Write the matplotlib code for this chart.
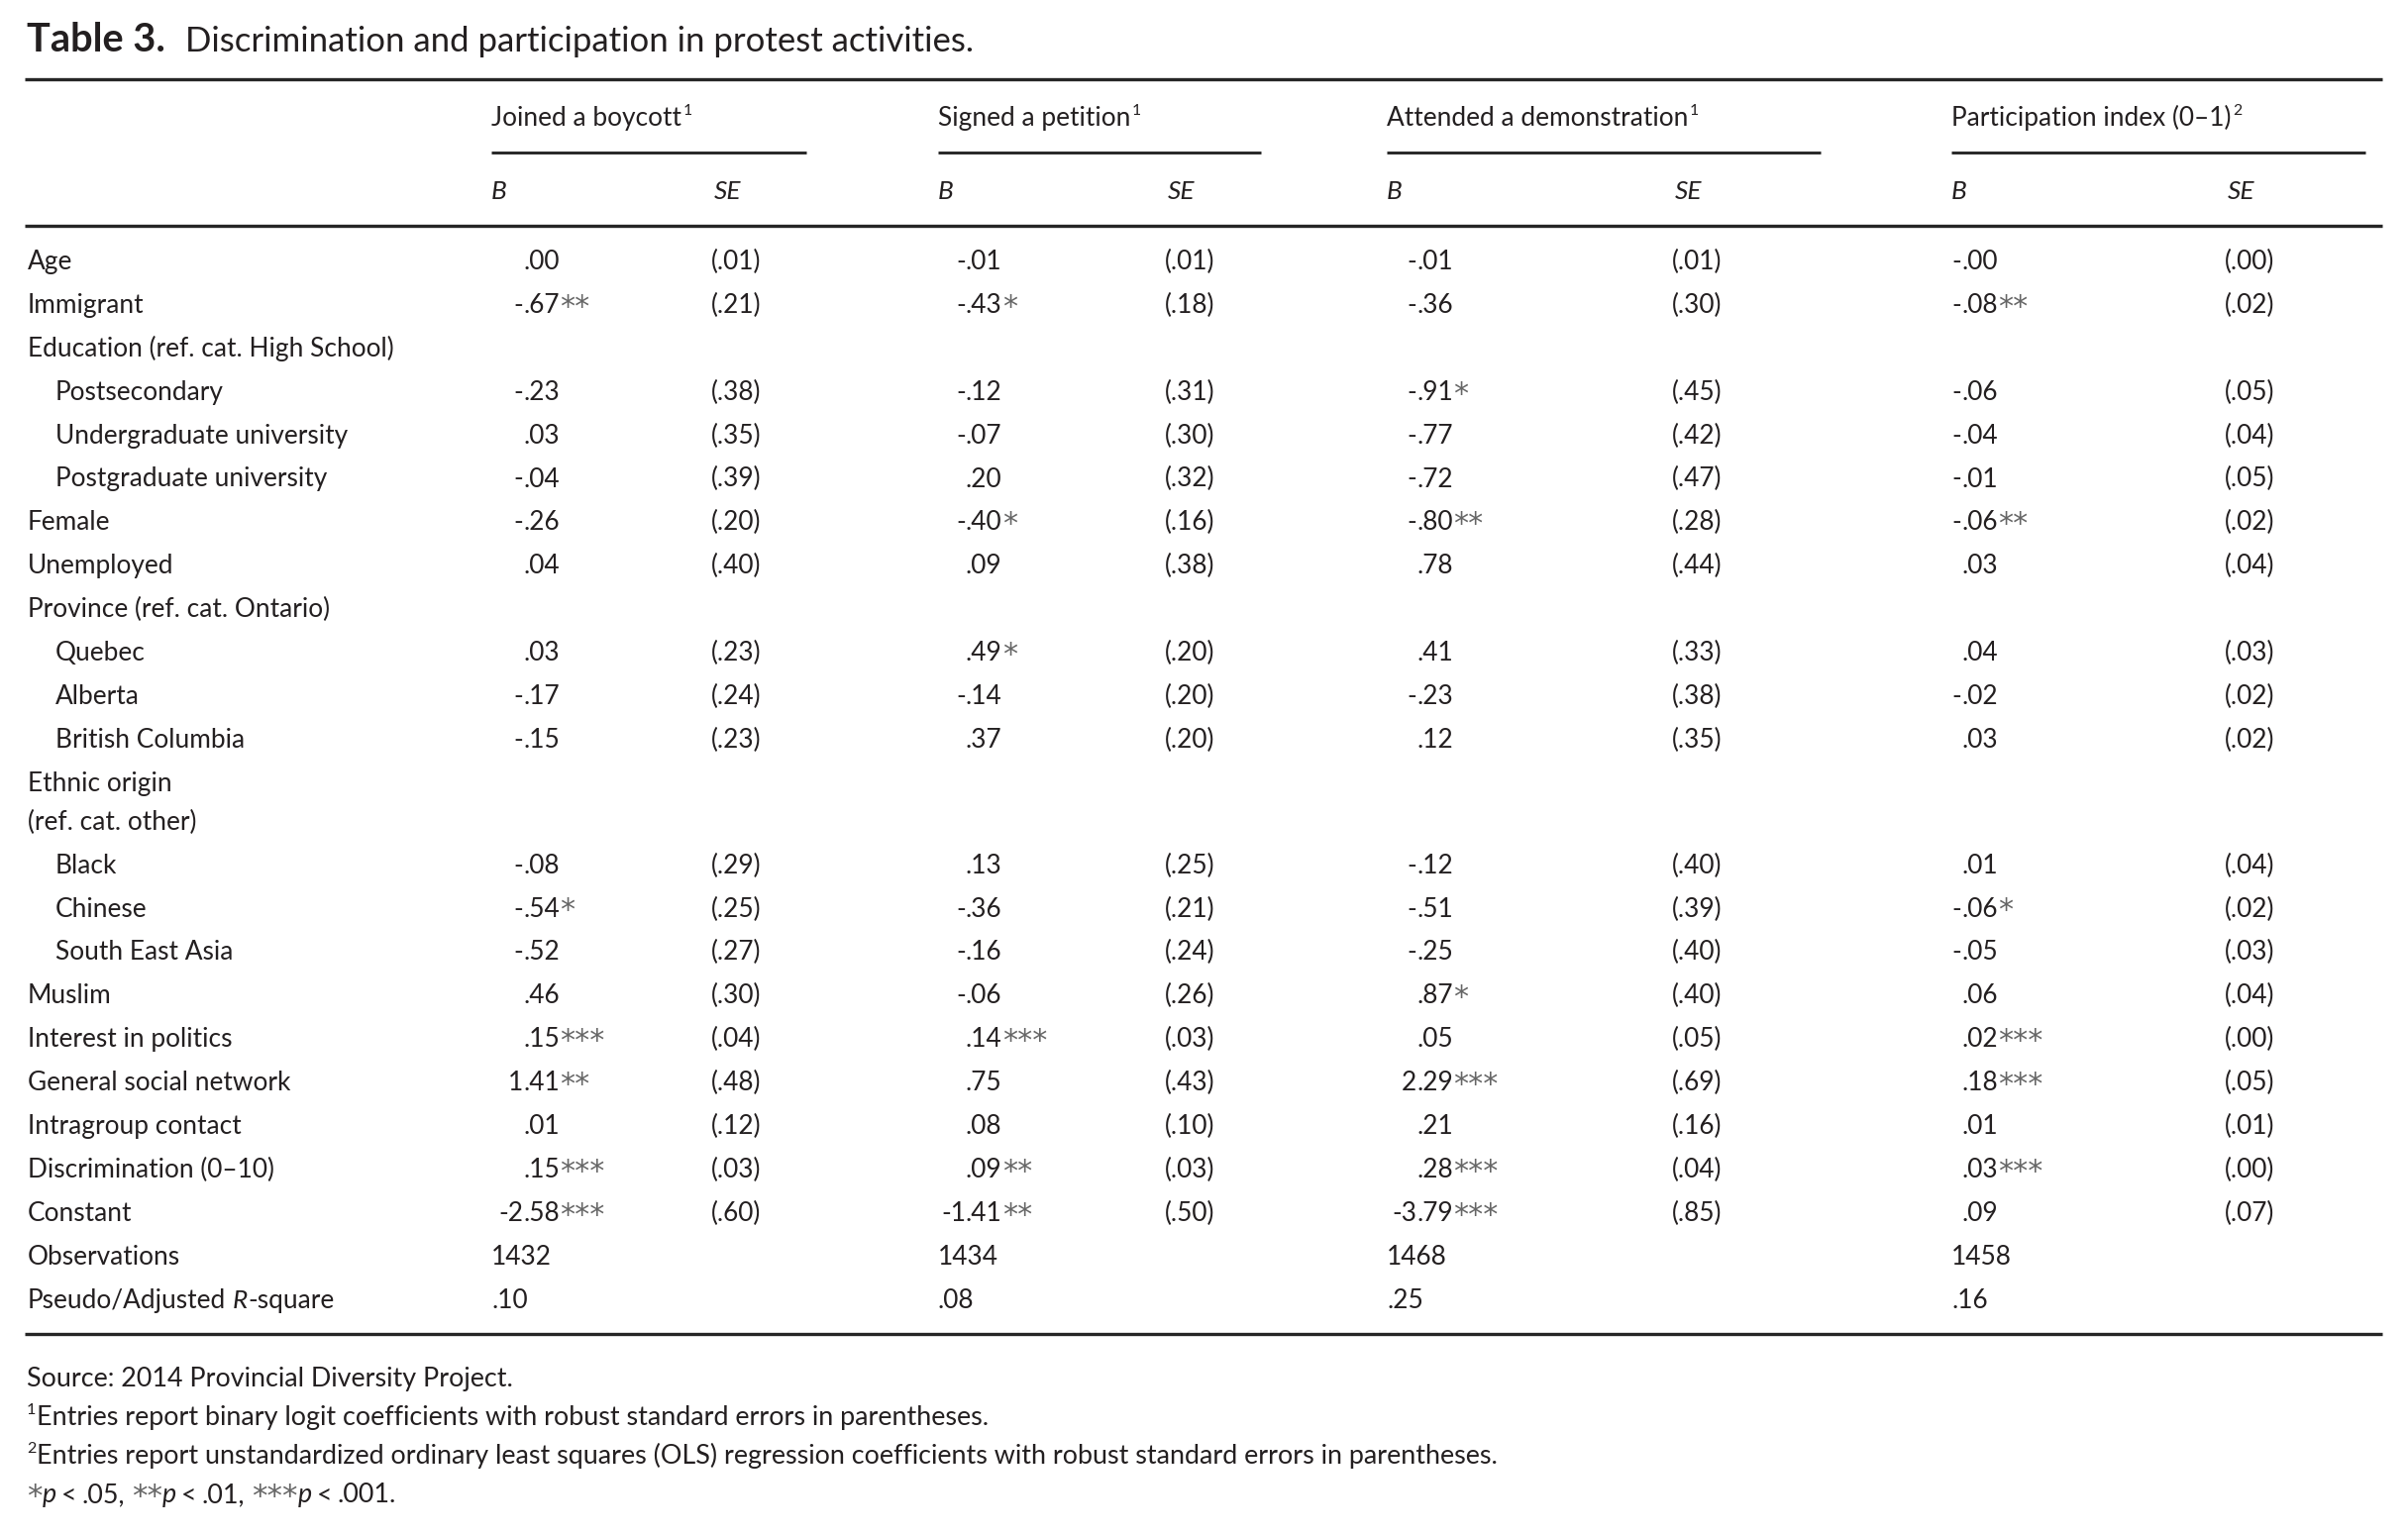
import matplotlib
matplotlib.use('Agg')
import matplotlib.pyplot as plt

W, H = 2431, 1550
FONT = ['Lato', 'DejaVu Sans']
STAR_FONT = ['DejaVu Sans']
INK = '#231f20'
STAR = '#666666'
RULE = '#262626'

# ---------------- data ----------------
title_bold = "Table 3."
title_text = "Discrimination and participation in protest activities."
group_titles = ["Joined a boycott", "Signed a petition",
                "Attended a demonstration", "Participation index (0–1)"]
group_marks = ["1", "1", "1", "2"]
sub_headers = ["B", "SE"]

row_labels = ["Age", "Immigrant", "Education (ref. cat. High School)",
              "Postsecondary", "Undergraduate university", "Postgraduate university",
              "Female", "Unemployed", "Province (ref. cat. Ontario)",
              "Quebec", "Alberta", "British Columbia",
              "Ethnic origin\n(ref. cat. other)",
              "Black", "Chinese", "South East Asia", "Muslim",
              "Interest in politics", "General social network",
              "Intragroup contact", "Discrimination (0–10)", "Constant"]
row_indent = [0, 0, 0, 1, 1, 1, 0, 0, 0, 1, 1, 1, 0, 1, 1, 1, 0, 0, 0, 0, 0, 0]

boycott_b = [".00", "-.67**", "", "-.23", ".03", "-.04", "-.26", ".04", "",
             ".03", "-.17", "-.15", "", "-.08", "-.54*", "-.52", ".46",
             ".15***", "1.41**", ".01", ".15***", "-2.58***"]
boycott_se = ["(.01)", "(.21)", "", "(.38)", "(.35)", "(.39)", "(.20)", "(.40)", "",
              "(.23)", "(.24)", "(.23)", "", "(.29)", "(.25)", "(.27)", "(.30)",
              "(.04)", "(.48)", "(.12)", "(.03)", "(.60)"]
petition_b = ["-.01", "-.43*", "", "-.12", "-.07", ".20", "-.40*", ".09", "",
              ".49*", "-.14", ".37", "", ".13", "-.36", "-.16", "-.06",
              ".14***", ".75", ".08", ".09**", "-1.41**"]
petition_se = ["(.01)", "(.18)", "", "(.31)", "(.30)", "(.32)", "(.16)", "(.38)", "",
               "(.20)", "(.20)", "(.20)", "", "(.25)", "(.21)", "(.24)", "(.26)",
               "(.03)", "(.43)", "(.10)", "(.03)", "(.50)"]
demo_b = ["-.01", "-.36", "", "-.91*", "-.77", "-.72", "-.80**", ".78", "",
          ".41", "-.23", ".12", "", "-.12", "-.51", "-.25", ".87*",
          ".05", "2.29***", ".21", ".28***", "-3.79***"]
demo_se = ["(.01)", "(.30)", "", "(.45)", "(.42)", "(.47)", "(.28)", "(.44)", "",
           "(.33)", "(.38)", "(.35)", "", "(.40)", "(.39)", "(.40)", "(.40)",
           "(.05)", "(.69)", "(.16)", "(.04)", "(.85)"]
index_b = ["-.00", "-.08**", "", "-.06", "-.04", "-.01", "-.06**", ".03", "",
           ".04", "-.02", ".03", "", ".01", "-.06*", "-.05", ".06",
           ".02***", ".18***", ".01", ".03***", ".09"]
index_se = ["(.00)", "(.02)", "", "(.05)", "(.04)", "(.05)", "(.02)", "(.04)", "",
            "(.03)", "(.02)", "(.02)", "", "(.04)", "(.02)", "(.03)", "(.04)",
            "(.00)", "(.05)", "(.01)", "(.00)", "(.07)"]

observations = ["1432", "1434", "1468", "1458"]
r_square = [".10", ".08", ".25", ".16"]

source_note = "Source: 2014 Provincial Diversity Project."
note1 = "Entries report binary logit coefficients with robust standard errors in parentheses."
note2 = ("Entries report unstandardized ordinary least squares (OLS) regression "
         "coefficients with robust standard errors in parentheses.")
sig_stars = ["*", "**", "***"]
sig_levels = [".05,", ".01,", ".001."]

b_cols = [boycott_b, petition_b, demo_b, index_b]
se_cols = [boycott_se, petition_se, demo_se, index_se]

# ---------------- layout ----------------
LABEL_X, INDENT_X = 28, 56
B_X = [496, 947, 1400, 1970]
DEC_X = [528, 975, 1430, 1980]
SE_X = [718, 1176, 1688, 2246]
UL = [(496, 814), (947, 1273), (1400, 1838), (1970, 2388)]
RULE_X = (25, 2405)
Y_TITLE, Y_TOP, Y_GROUP, Y_UL, Y_SUB, Y_HDR = 52, 80, 127, 154, 201, 228
Y_ROW0, STEP, LINE2 = 272, 43.9, 39
Y_BOTTOM = 1347
Y_NOTES = [1400, 1439, 1478, 1517]

fig = plt.figure(figsize=(W / 100, H / 100), dpi=100)
fig.patch.set_facecolor('white')
ax = fig.add_axes([0, 0, 1, 1])
ax.set_xlim(0, W)
ax.set_ylim(H, 0)
ax.axis('off')
R = fig.canvas.get_renderer()


def width_px(s, size, **kw):
    t = ax.text(0, 0, s, fontsize=size, family=FONT, **kw)
    w = t.get_window_extent(R).width
    t.remove()
    return w


def fit(s, target, **kw):
    return 20 * target / width_px(s, 20, **kw)


BODY = fit("Education (ref. cat. High School)", 368)
NOTE = fit(source_note, 492)
TITLE = fit(title_text, 796)
TITLE_B = fit(title_bold, 140, weight='bold')

STAR_K = 1.15


def put(x, y, s, size=None, ha='left', family=None, **kw):
    kw.setdefault('color', INK)
    return ax.text(x, y, s, fontsize=size or BODY, family=family or FONT,
                   ha=ha, va='baseline', **kw)


def after(prev, y, s, size=None, dx=0, dy=0, family=None, **kw):
    kw.setdefault('color', INK)
    return ax.annotate(s, xy=(1, y), xycoords=(prev, 'data'),
                       xytext=(dx, dy), textcoords='offset points',
                       fontsize=size or BODY, family=family or FONT,
                       ha='left', va='baseline', **kw)


def stars_after(prev, y, s, base, dx=0.4):
    size = base * STAR_K
    dy = (0.73 - 0.73 * STAR_K) * base
    return after(prev, y, s, size, dx=dx, dy=dy, family=STAR_FONT, color=STAR)


def hline(x0, x1, y, lw=2.4):
    ax.plot([x0, x1], [y, y], color=RULE, lw=lw, solid_capstyle='butt')


def value(col, y, s):
    if not s:
        return
    stars = s.count('*')
    num = s.rstrip('*')
    left, right = num.split('.')
    if left:
        put(DEC_X[col], y, left, ha='right')
    t = put(DEC_X[col], y, '.' + right)
    if stars:
        stars_after(t, y, '*' * stars, BODY)


# title
put(27, Y_TITLE, title_bold, size=TITLE_B, weight='bold')
put(187, Y_TITLE, title_text, size=TITLE)

# rules
hline(*RULE_X, Y_TOP)
hline(*RULE_X, Y_HDR)
hline(*RULE_X, Y_BOTTOM)
for (x0, x1) in UL:
    hline(x0, x1, Y_UL, lw=2.1)

# headers
for i in range(4):
    t = put(B_X[i], Y_GROUP, group_titles[i])
    after(t, Y_GROUP, group_marks[i], BODY * 0.6, dx=1, dy=BODY * 0.42)
    put(B_X[i], Y_SUB, sub_headers[0], style='italic')
    put(SE_X[i] + 3, Y_SUB, sub_headers[1], style='italic')

# body rows
y = Y_ROW0
for r, lab in enumerate(row_labels):
    x = INDENT_X if row_indent[r] else LABEL_X
    lines = lab.split('\n')
    for k, ln in enumerate(lines):
        put(x, y + k * LINE2, ln)
    for c in range(4):
        value(c, y, b_cols[c][r])
        if se_cols[c][r]:
            put(SE_X[c], y, se_cols[c][r])
    y += STEP + (len(lines) - 1) * LINE2

# observations and R-square
put(LABEL_X, y, "Observations")
for c in range(4):
    put(B_X[c], y, observations[c])
y += STEP
t = put(LABEL_X, y, "Pseudo/Adjusted")
t = after(t, y, "R", dx=BODY * 0.24, style='italic')
after(t, y, "-square", dx=0.3)
for c in range(4):
    put(B_X[c], y, r_square[c])

# notes
put(27, Y_NOTES[0], source_note, size=NOTE)
sup_dy = NOTE * 0.42 * 100 / 72
t = put(27, Y_NOTES[1] - sup_dy, "1", size=NOTE * 0.6)
after(t, Y_NOTES[1], note1, NOTE, dx=0.5)
t = put(27, Y_NOTES[2] - sup_dy, "2", size=NOTE * 0.6)
after(t, Y_NOTES[2], note2, NOTE, dx=0.5)

yN = Y_NOTES[3]
prev = None
for k in range(3):
    if prev is None:
        prev = put(27, yN - (0.73 - 0.73 * STAR_K) * NOTE * 100 / 72, sig_stars[k],
                   size=NOTE * STAR_K, family=STAR_FONT, color=STAR)
    else:
        prev = stars_after(prev, yN, sig_stars[k], NOTE, dx=NOTE * 0.25)
    prev = after(prev, yN, "p", NOTE, dx=0.3, style='italic')
    prev = after(prev, yN, "<", NOTE, dx=NOTE * 0.18)
    prev = after(prev, yN, sig_levels[k], NOTE, dx=NOTE * 0.18)

fig.savefig('out.png', dpi=100, facecolor='white')
